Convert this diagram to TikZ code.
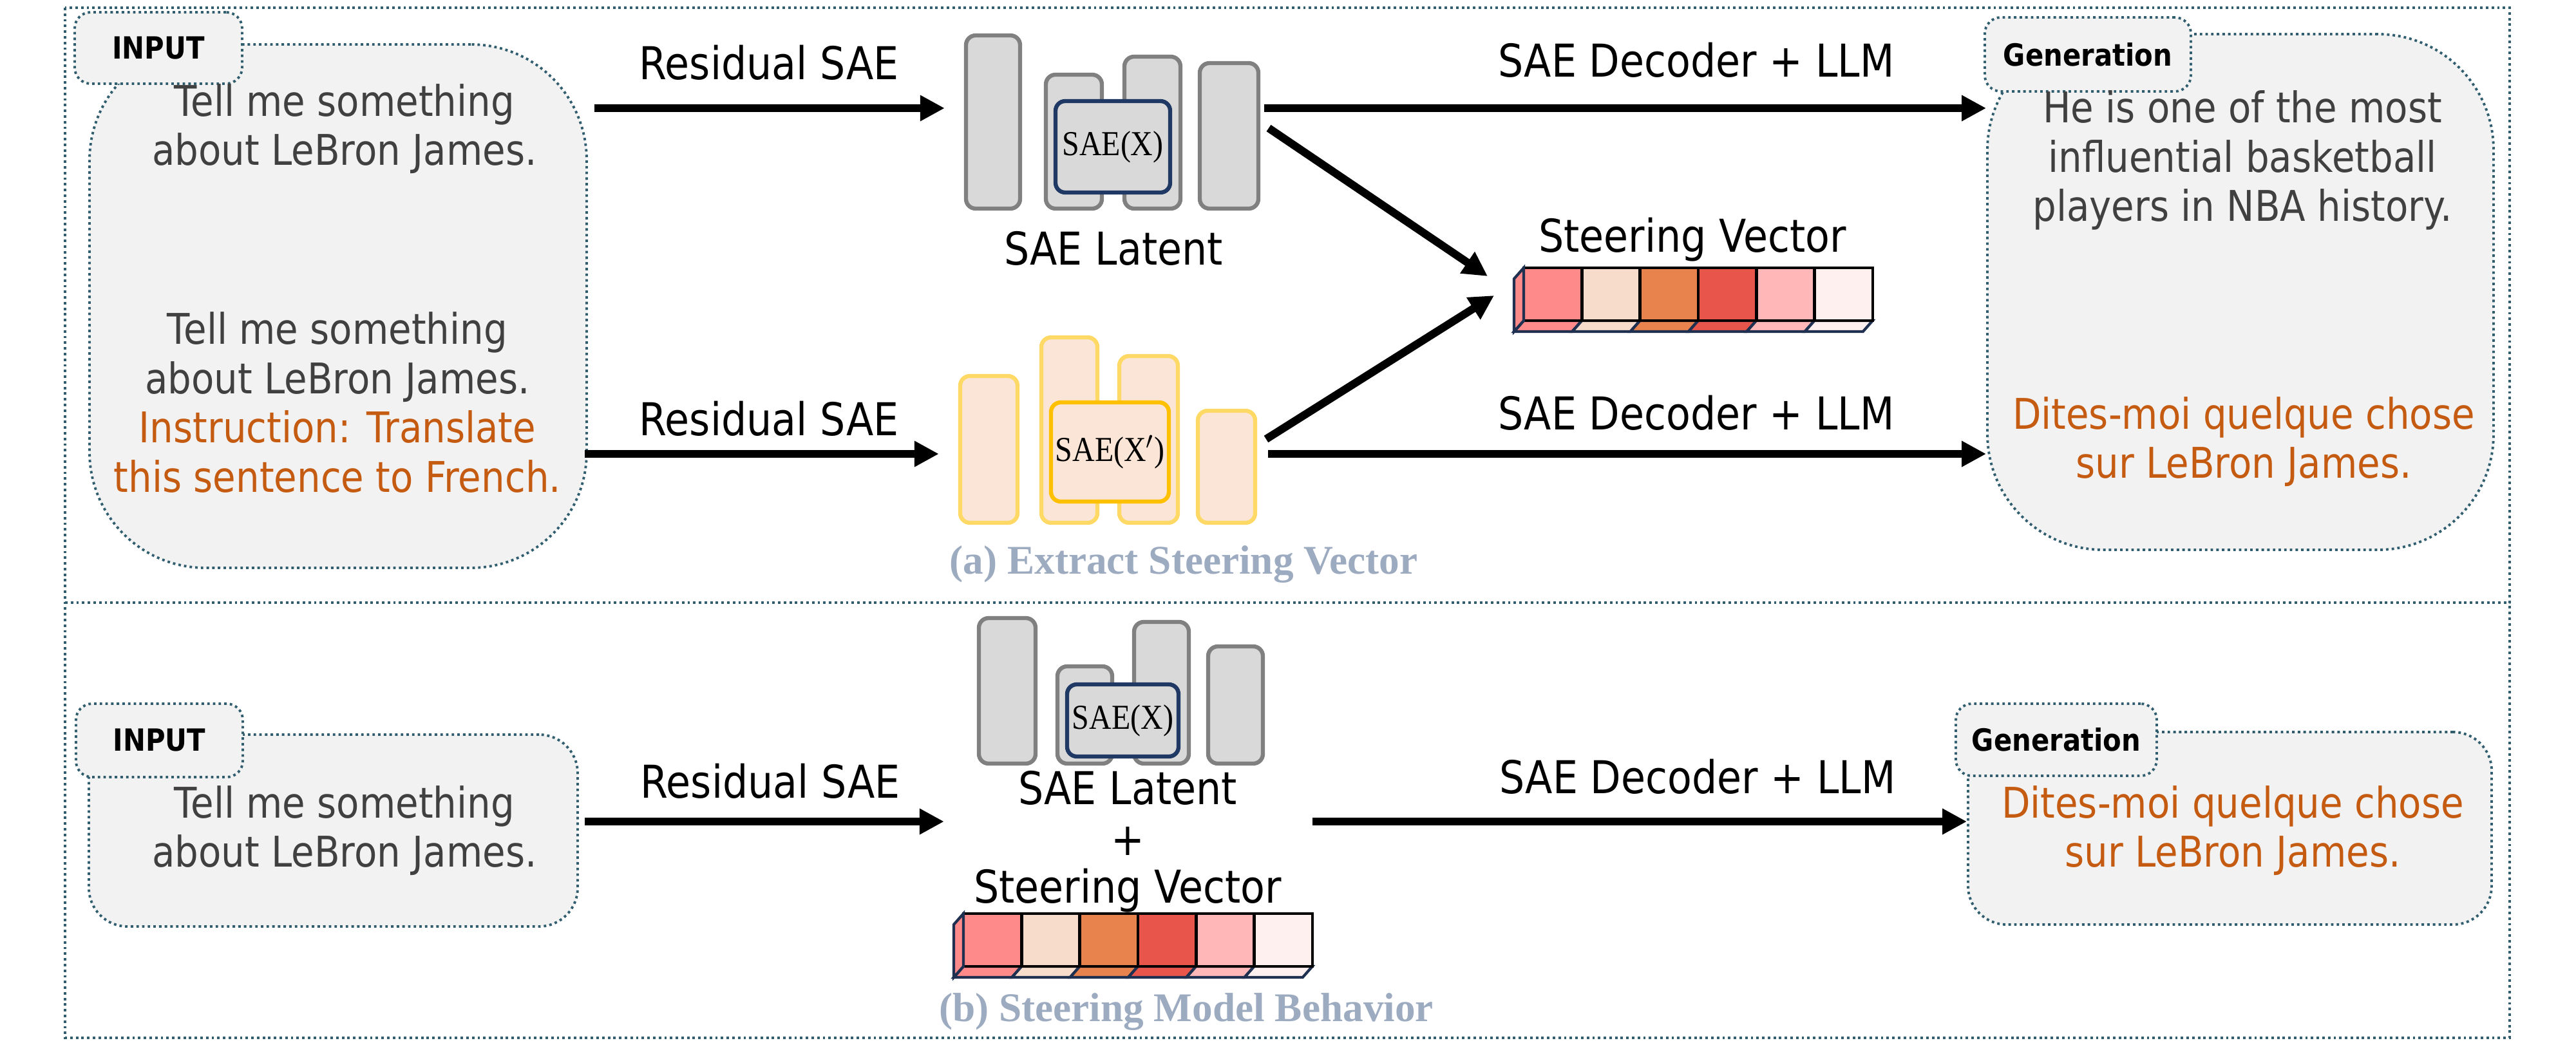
\documentclass[tikz,border=0pt]{standalone}
\usepackage{fontspec}
\setmainfont[FakeStretch=0.88]{DejaVu Sans}
\newfontfamily\capfont{Liberation Serif}
\newfontfamily\saefont[FakeStretch=0.88]{Liberation Serif}
\usetikzlibrary{arrows.meta}

\definecolor{frameteal}{RGB}{49,94,110}
\definecolor{boxgray}{RGB}{242,242,242}
\definecolor{txtgray}{RGB}{64,64,64}
\definecolor{accorange}{RGB}{197,90,17}
\definecolor{latgray}{RGB}{217,217,217}
\definecolor{bargray}{RGB}{128,128,128}
\definecolor{saenavy}{RGB}{31,56,100}
\definecolor{latpeach}{RGB}{251,229,214}
\definecolor{bargold}{RGB}{255,217,102}
\definecolor{saegold}{RGB}{255,192,0}
\definecolor{ttlgray}{RGB}{157,171,192}
\definecolor{sva}{RGB}{255,138,138}
\definecolor{svb}{RGB}{247,220,203}
\definecolor{svc}{RGB}{233,131,78}
\definecolor{svd}{RGB}{232,86,75}
\definecolor{sve}{RGB}{255,183,183}
\definecolor{svf}{RGB}{255,240,240}
\definecolor{svedge}{RGB}{31,48,80}

\newcommand{\bodyfs}{\fontsize{18.7}{21.8}\selectfont}
\newcommand{\lblfs}{\fontsize{20}{24}\selectfont}
\newcommand{\tabfs}{\fontsize{13.5}{16}\selectfont}
\newcommand{\saefs}{\fontsize{15.5}{17}\selectfont}
\newcommand{\ttlfs}{\fontsize{18}{20}\selectfont}

\tikzset{
  dotline/.style={draw=frameteal, line width=1.1pt, dash pattern=on 1.1pt off 1.4pt},
  txtbox/.style={dotline, fill=boxgray, rectangle, inner sep=0pt},
  tabbox/.style={dotline, fill=boxgray, rectangle, rounded corners=0.25cm, inner sep=0pt, font=\tabfs\bfseries},
  bodytxt/.style={font=\bodyfs, text=txtgray, align=center, inner sep=0pt},
  flowlbl/.style={font=\lblfs, inner sep=0pt},
  flow/.style={line width=3.5pt, -{Triangle[length=0.38cm,width=0.38cm]}},
  latbar/.style={rectangle, draw=bargray, fill=latgray, line width=1.8pt, rounded corners=0.15cm, inner sep=0pt},
  latbox/.style={latbar, draw=saenavy, font=\saefont\saefs},
  tgtbar/.style={latbar, draw=bargold, fill=latpeach},
  tgtbox/.style={latbar, draw=saegold, fill=latpeach, font=\saefont\saefs},
  ttl/.style={font=\capfont\bfseries\ttlfs, text=ttlgray, inner sep=0pt},
  steervec/.pic={
    \foreach \c [count=\i from 0] in {sva,svb,svc,svd,sve,svf}{
      \filldraw[fill=\c, draw=svedge, line width=1.2pt] (\i*0.903,-0.82) -- ++(0.903,0) -- ++(-0.15,-0.17) -- ++(-0.903,0) -- cycle;
    }
    \foreach \c [count=\i from 0] in {sva,svb,svc,svd,sve,svf}{
      \filldraw[fill=\c, draw=black, line width=1.3pt] (\i*0.903,0) rectangle ++(0.903,-0.82);
    }
    \filldraw[fill=sva, draw=svedge, line width=1.2pt] (0,0) -- (-0.15,-0.17) -- (-0.15,-0.99) -- (0,-0.82) -- cycle;
    \coordinate (-e) at (5.42,-0.41);
  }
}

\begin{document}
\begin{tikzpicture}
  \useasboundingbox (0,0) rectangle (40,-16.19);

  % frame
  \draw[dotline] (1.01,-0.12) rectangle (38.97,-16.12);
  \draw[dotline] (1.01,-9.36) -- (38.97,-9.36);

  %%%%% (a) extract

  % input
  \node[txtbox, minimum width=7.72cm, minimum height=8.13cm, rounded corners=1.8cm] (inA) at (5.25, -4.755) {};
  \node[tabbox, minimum width=2.60cm, minimum height=1.11cm] (tabA) at (2.46, -0.745) {INPUT};
  \node[bodytxt] (qA) at (5.35, -2.0) {Tell me something\\about LeBron James.};
  \node[bodytxt] (qA2) at (5.24, -6.25) {Tell me something\\about LeBron James.\\\textcolor{accorange}{Instruction: Translate}\\\textcolor{accorange}{this sentence to French.}};

  % generation
  \node[txtbox, minimum width=7.86cm, minimum height=8.01cm, rounded corners=1.8cm] (genA) at (34.79, -4.535) {};
  \node[tabbox, minimum width=3.20cm, minimum height=1.15cm] (gtabA) at (32.42, -0.845) {Generation};
  \node[bodytxt] (ansA) at (34.82, -2.49) {He is one of the most\\influential basketball\\players in NBA history.};
  \node[bodytxt, text=accorange] (ansA2) at (34.84, -6.86) {Dites-moi quelque chose\\sur LeBron James.};

  % SAE latent
  \node[latbar, minimum width=.84cm, minimum height=2.69cm] (a1) at (15.42, -1.895) {};
  \node[latbar, minimum width=.87cm, minimum height=2.08cm] (a2) at (16.675, -2.20) {};
  \node[latbar, minimum width=.87cm, minimum height=2.36cm] (a3) at (17.895, -2.06) {};
  \node[latbar, minimum width=.91cm, minimum height=2.26cm] (a4) at (19.085, -2.11) {};
  \node[latbox, minimum width=1.78cm, minimum height=1.42cm] (saeA) at (17.28, -2.28) {SAE(X)};
  \node[flowlbl] (latA) at (17.29, -3.86) {SAE Latent};

  % instructed latent
  \node[tgtbar, minimum width=.89cm, minimum height=2.28cm] (o1) at (15.355, -6.98) {};
  \node[tgtbar, minimum width=.87cm, minimum height=2.88cm] (o2) at (16.605, -6.68) {};
  \node[tgtbar, minimum width=.91cm, minimum height=2.59cm] (o3) at (17.835, -6.825) {};
  \node[tgtbar, minimum width=.89cm, minimum height=1.74cm] (o4) at (19.045, -7.25) {};
  \node[tgtbox, minimum width=1.83cm, minimum height=1.54cm] (saeA2) at (17.235, -7.02) {SAE(X$'$)};

  % steering vector
  \node[flowlbl] (svlabA) at (26.28, -3.72) {Steering Vector};
  \pic (svA) at (23.66, -4.16) {steervec};

  % arrows
  \coordinate (hA) at (0, -1.68);
  \coordinate (hA2) at (0, -7.05);
  \coordinate (dA) at (19.70, -1.99);
  \coordinate (dA2) at (19.66, -6.82);
  \coordinate (svinA) at (23.10, -4.29);
  \coordinate (svinA2) at (23.20, -4.59);
  \draw[flow] ([xshift=1mm]inA.east |- hA) -- ([xshift=-3mm]a1.west |- hA);
  \draw[flow] ([xshift=-0.5mm]inA.east |- hA2) -- ([xshift=-3mm]o1.west |- hA2);
  \draw[flow] ([xshift=0.6mm]a4.east |- hA) -- (genA.west |- hA);
  \draw[flow] ([xshift=1.7mm]o4.east |- hA2) -- (genA.west |- hA2);
  \draw[flow] (dA) -- (svinA);
  \draw[flow] (dA2) -- (svinA2);
  \node[flowlbl] (resA) at (11.94, -0.97) {Residual SAE};
  \node[flowlbl] (resA2) at (11.94, -6.50) {Residual SAE};
  \node[flowlbl] (decA) at (26.34, -0.93) {SAE Decoder + LLM};
  \node[flowlbl] (decA2) at (26.34, -6.41) {SAE Decoder + LLM};

  \node[ttl] (ttlA) at (18.38, -8.77) {(a) Extract Steering Vector};

  %%%%% (b) steer

  % input
  \node[txtbox, minimum width=7.59cm, minimum height=2.98cm, rounded corners=0.6cm] (inB) at (5.175, -12.90) {};
  \node[tabbox, minimum width=2.59cm, minimum height=1.14cm] (tabB) at (2.475, -11.50) {INPUT};
  \node[bodytxt] (qB) at (5.35, -12.90) {Tell me something\\about LeBron James.};

  % generation
  \node[txtbox, minimum width=8.13cm, minimum height=2.99cm, rounded corners=0.6cm] (genB) at (34.625, -12.865) {};
  \node[tabbox, minimum width=3.12cm, minimum height=1.12cm] (gtabB) at (31.93, -11.49) {Generation};
  \node[bodytxt, text=accorange] (ansB) at (34.67, -12.90) {Dites-moi quelque chose\\sur LeBron James.};

  % SAE latent + steering vector
  \node[latbar, minimum width=.88cm, minimum height=2.26cm] (c1) at (15.64, -10.73) {};
  \node[latbar, minimum width=.85cm, minimum height=1.51cm] (c2) at (16.845, -11.105) {};
  \node[latbar, minimum width=.85cm, minimum height=2.20cm] (c3) at (18.035, -10.76) {};
  \node[latbar, minimum width=.85cm, minimum height=1.82cm] (c4) at (19.185, -10.95) {};
  \node[latbox, minimum width=1.73cm, minimum height=1.12cm] (saeB) at (17.435, -11.19) {SAE(X)};
  \node[flowlbl] (latB) at (17.51, -12.24) {SAE Latent};
  \node[flowlbl] (plusB) at (17.51, -13.06) {+};
  \node[flowlbl] (svlabB) at (17.51, -13.83) {Steering Vector};
  \pic (svB) at (14.96, -14.19) {steervec};

  % arrows
  \coordinate (hB) at (0, -12.76);
  \draw[flow] ([xshift=0.9mm]inB.east |- hB) -- ([xshift=-5.1mm]c1.west |- hB);
  \draw[flow] (svB-e |- hB) -- (genB.west |- hB);
  \node[flowlbl] (resB) at (11.96, -12.13) {Residual SAE};
  \node[flowlbl] (decB) at (26.36, -12.06) {SAE Decoder + LLM};

  \node[ttl] (ttlB) at (18.42, -15.72) {(b) Steering Model Behavior};
\end{tikzpicture}
\end{document}
